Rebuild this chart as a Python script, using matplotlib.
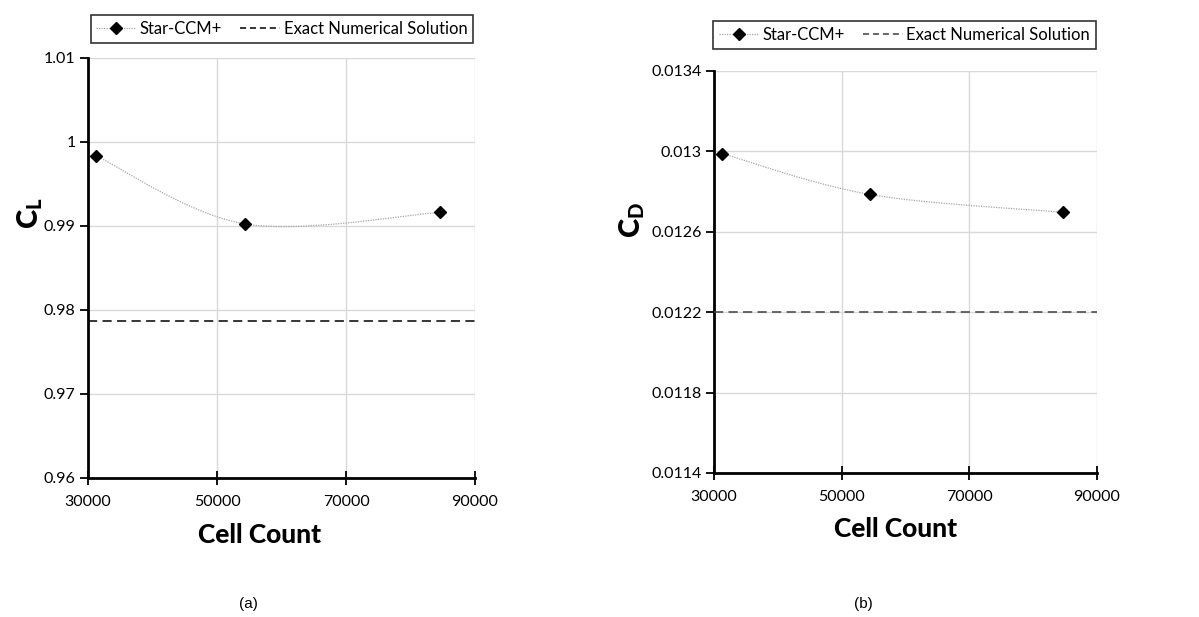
import numpy as np
import matplotlib
matplotlib.use("Agg")
import matplotlib.pyplot as plt
from matplotlib.lines import Line2D

# ---- data ----
cells = [31300, 54400, 84650]
cl_star = [0.99833, 0.99024, 0.99163]
cl_exact = 0.97865
cd_star = [0.012989, 0.012786, 0.012697]
cd_exact = 0.0122

x_ticks = [30000, 50000, 70000, 90000]
cl_ticks = [0.96, 0.97, 0.98, 0.99, 1.0, 1.01]
cl_ticklabels = ["0.96", "0.97", "0.98", "0.99", "1", "1.01"]
cd_ticks = [0.0114, 0.0118, 0.0122, 0.0126, 0.013, 0.0134]
cd_ticklabels = ["0.0114", "0.0118", "0.0122", "0.0126", "0.013", "0.0134"]

FONT = "Lato"
plt.rcParams["font.family"] = FONT
plt.rcParams["mathtext.fontset"] = "custom"
plt.rcParams["mathtext.rm"] = "Lato:bold"
plt.rcParams["mathtext.bf"] = "Lato:black"

W, H = 1199, 617


def smooth(x, y, xr, yr, n=60):
    # Excel-like Bezier smoothing in normalized coordinates
    xs = (np.asarray(x, float) - xr[0]) / (xr[1] - xr[0])
    ys = (np.asarray(y, float) - yr[0]) / (yr[1] - yr[0])
    P = np.column_stack([xs, ys])
    m = len(P)
    out = []
    t = np.linspace(0, 1, n)[:, None]
    for i in range(m - 1):
        p0 = P[i - 1] if i > 0 else P[i]
        p1 = P[i]
        p2 = P[i + 1]
        p3 = P[i + 2] if i + 2 < m else P[i + 1]
        c1 = p1 + (p2 - p0) / 6.0
        c2 = p2 - (p3 - p1) / 6.0
        seg = ((1 - t) ** 3) * p1 + 3 * ((1 - t) ** 2) * t * c1 + 3 * (1 - t) * t ** 2 * c2 + t ** 3 * p2
        out.append(seg if i == 0 else seg[1:])
    S = np.vstack(out)
    return S[:, 0] * (xr[1] - xr[0]) + xr[0], S[:, 1] * (yr[1] - yr[0]) + yr[0]


fig = plt.figure(figsize=(W / 100, H / 100), dpi=100)

panels = [
    dict(pos=[88 / W, 1 - 478 / H, (475 - 88) / W, (478 - 58) / H], y=cl_star, exact=cl_exact,
         yt=cl_ticks, ytl=cl_ticklabels, ylab=r"$\mathbf{C_L}$", ylabxy=(30, 213),
         ex_col="black", legc=((86 + 478) / 2, (14 + 44) / 2), cap="(a)", capxy=(248, 604),
         xlabxy=(259, 535), xpad=7),
    dict(pos=[714 / W, 1 - 473 / H, (1097 - 714) / W, (473 - 71) / H], y=cd_star, exact=cd_exact,
         yt=cd_ticks, ytl=cd_ticklabels, ylab=r"$\mathbf{C_D}$", ylabxy=(632, 220),
         ex_col="#404040", legc=((712 + 1097) / 2, (18 + 52) / 2), cap="(b)", capxy=(863, 604),
         xlabxy=(895, 529), xpad=7),
]

for p in panels:
    ax = fig.add_axes(p["pos"])
    xr = (x_ticks[0], x_ticks[-1])
    yr = (p["yt"][0], p["yt"][-1])
    ax.set_xlim(*xr)
    ax.set_ylim(*yr)
    ax.grid(True, color="#d9d9d9", linewidth=1.0)
    ax.set_axisbelow(True)
    sx, sy = smooth(cells, p["y"], xr, yr)
    ax.plot(sx, sy, color="#a6a6a6", linestyle=(0, (1, 1)), linewidth=0.9, zorder=3)
    ax.plot(cells, p["y"], linestyle="none", marker="D", markersize=6.5,
            color="black", zorder=4, clip_on=False)
    ax.axhline(p["exact"], color=p["ex_col"], linestyle=(0, (6, 3.5)), linewidth=1.1, zorder=3)
    for s in ["top", "right"]:
        ax.spines[s].set_visible(False)
    for s in ["left", "bottom"]:
        ax.spines[s].set_linewidth(2.0)
        ax.spines[s].set_color("black")
    ax.set_xticks(x_ticks)
    ax.set_xticklabels([str(v) for v in x_ticks])
    ax.set_yticks(p["yt"])
    ax.set_yticklabels(p["ytl"])
    ax.tick_params(axis="x", direction="inout", length=10, width=1.3, labelsize=11.5, pad=p["xpad"])
    ax.tick_params(axis="y", direction="out", length=6, width=1.3, labelsize=11.5, pad=3)

    fig.text(p["xlabxy"][0] / W, 1 - p["xlabxy"][1] / H, "Cell Count", ha="center",
             va="center", fontsize=19, fontweight="black")
    fig.text(p["ylabxy"][0] / W, 1 - p["ylabxy"][1] / H, p["ylab"], ha="center",
             va="center", fontsize=21, rotation=90)

    handles = [
        Line2D([], [], color="#a6a6a6", linestyle=(0, (1, 1)), linewidth=0.9,
               marker="D", markersize=6, markerfacecolor="black", markeredgecolor="black"),
        Line2D([], [], color=p["ex_col"], linestyle=(0, (4, 2.5)), linewidth=1.1),
    ]
    cx, cy = p["legc"]
    leg = fig.legend(handles, ["Star-CCM+", "Exact Numerical Solution"], ncol=2,
                     loc="center", bbox_to_anchor=(cx / W, 1 - cy / H),
                     frameon=True, fancybox=False, fontsize=12, handlelength=2.4,
                     handletextpad=0.2, columnspacing=1.1, borderaxespad=0,
                     borderpad=0.35)
    leg.get_frame().set_edgecolor("black")
    leg.get_frame().set_linewidth(1.2)

    fig.text(p["capxy"][0] / W, 1 - p["capxy"][1] / H, p["cap"], ha="center", va="center",
             fontsize=11, family="Liberation Sans")

fig.savefig("out.png", dpi=100)
